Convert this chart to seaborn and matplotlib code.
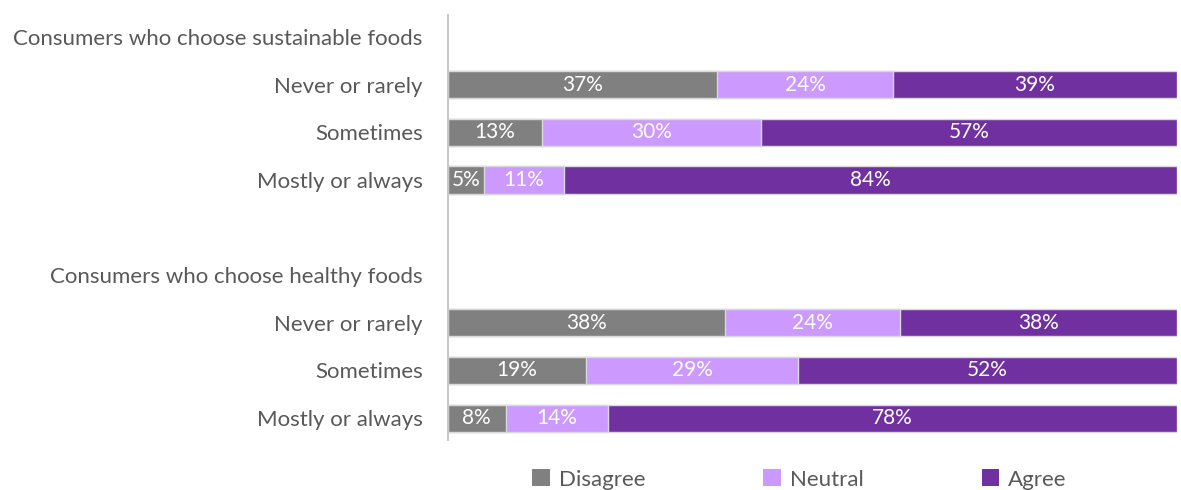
import matplotlib
matplotlib.use("Agg")
import matplotlib.pyplot as plt
import seaborn as sns
import pandas as pd
from matplotlib.patches import Patch

# ---- data ----
row_labels = ["Consumers who choose sustainable foods", "Never or rarely", "Sometimes", "Mostly or always",
              "", "Consumers who choose healthy foods", "Never or rarely", "Sometimes", "Mostly or always"]
row_keys = ["h1", "s_nr", "s_s", "s_ma", "gap", "h2", "h_nr", "h_s", "h_ma"]
bar_keys = ["s_nr", "s_s", "s_ma", "h_nr", "h_s", "h_ma"]
disagree = [37, 13, 5, 38, 19, 8]
neutral = [24, 30, 11, 24, 29, 14]
agree = [39, 57, 84, 38, 52, 78]
series_names = ["Disagree", "Neutral", "Agree"]
colors = ["#808080", "#CC99FF", "#7030A0"]

sns.set_theme(style="white")
plt.rcParams["font.family"] = ["Lato", "DejaVu Sans"]
text_col = "#595959"

df = pd.DataFrame({"key": bar_keys, "Disagree": disagree, "Neutral": neutral, "Agree": agree})
df["c1"] = df["Disagree"]
df["c2"] = df["Disagree"] + df["Neutral"]
df["c3"] = df["c2"] + df["Agree"]

fig = plt.figure(figsize=(11.81, 4.90), dpi=100)
ax = fig.add_axes([0.379, 0.102, 0.6176, 0.867])

for col, color in zip(["c3", "c2", "c1"], colors[::-1]):
    sns.barplot(data=df, x=col, y="key", order=row_keys, color=color, orient="h",
                width=0.57, edgecolor="#D9D9D9", linewidth=1.0, saturation=1, ax=ax)

# segment labels
for _, r in df.iterrows():
    yi = row_keys.index(r["key"])
    lefts = [0, r["c1"], r["c2"]]
    for left, name in zip(lefts, series_names):
        v = r[name]
        ax.text(left + v / 2, yi, f"{v}%", ha="center", va="center", color="white", fontsize=15)

ax.set_xlim(0, 100)
ax.set_ylim(len(row_keys) - 0.54, -0.46)
ax.set_xlabel("")
ax.set_ylabel("")
ax.set_xticks([])
ax.set_yticks(range(len(row_keys)))
ax.set_yticklabels(row_labels, fontsize=16, color=text_col)
ax.tick_params(axis="y", length=0, pad=18)
for s in ["top", "right", "bottom"]:
    ax.spines[s].set_visible(False)
ax.spines["left"].set_color("#C8C8C8")
ax.spines["left"].set_linewidth(1.5)

handles = [Patch(facecolor=c, edgecolor="none", label=n) for c, n in zip(colors, series_names)]
fig.legend(handles=handles, loc="lower center", bbox_to_anchor=(0.677, -0.04), ncol=3, frameon=False,
           fontsize=16, labelcolor=text_col, handlelength=0.8, handleheight=0.8, handletextpad=0.4,
           columnspacing=5.3)

fig.savefig("out.png", dpi=100)
